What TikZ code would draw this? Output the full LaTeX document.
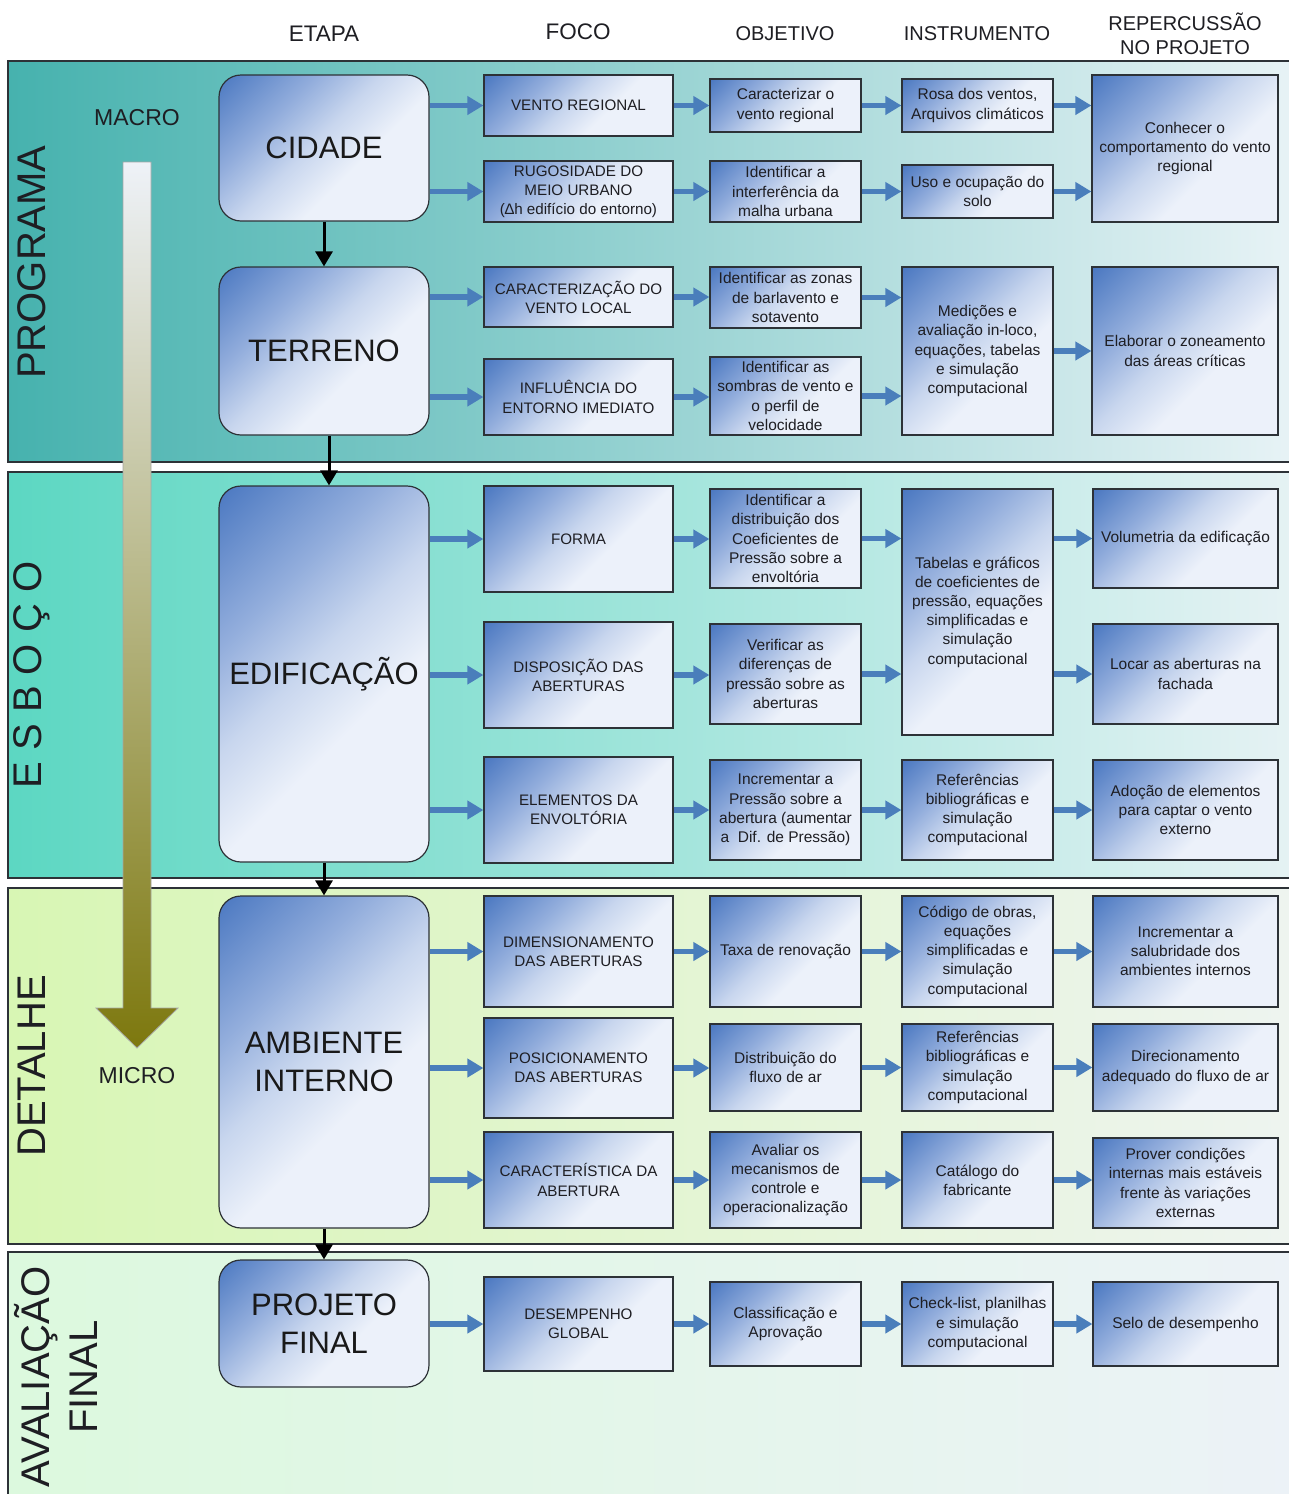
\documentclass[tikz,border=0pt]{standalone}
\usepackage{fontspec}
\setmainfont{Liberation Sans}
\usetikzlibrary{arrows.meta,calc}

\definecolor{bd}{RGB}{72,118,192}
\definecolor{bm1}{RGB}{146,173,220}
\definecolor{bm2}{RGB}{200,214,238}
\definecolor{bl}{RGB}{236,241,250}
\definecolor{brd}{RGB}{45,50,55}
\definecolor{txtc}{RGB}{30,30,35}
\definecolor{arrb}{RGB}{74,126,187}
\definecolor{p1}{RGB}{70,178,174}
\definecolor{p2}{RGB}{232,243,246}
\definecolor{e1}{RGB}{92,215,194}
\definecolor{e2}{RGB}{230,242,244}
\definecolor{d1}{RGB}{216,246,180}
\definecolor{d2}{RGB}{238,244,240}
\definecolor{a1}{RGB}{220,249,222}
\definecolor{a2}{RGB}{236,242,247}
\definecolor{atop}{RGB}{238,242,248}
\definecolor{abot}{RGB}{125,120,14}

\pgfdeclareverticalshading{boxsh}{100bp}{color(0bp)=(bl); color(40bp)=(bl); color(53bp)=(bm2); color(66bp)=(bm1); color(86bp)=(bd); color(100bp)=(bd)}

\newcommand\mkbox[7]{%
  \pgfmathsetmacro\bcx{(#3+#5)/2}%
  \pgfmathsetmacro\bcy{(#4+#6)/2}%
  \pgfmathsetmacro\bw{#5-#3}%
  \pgfmathsetmacro\bh{#6-#4}%
  \node[#1, minimum width=\bw pt, minimum height=\bh pt] (#2) at (\bcx,\bcy) {#7};}

\tikzset{
  fb/.style={draw=brd, line width=1.2pt, shading=boxsh, shading angle=45, align=center, inner sep=1pt, text=txtc, font=\fontsize{15.5}{19.2}\selectfont},
  fc/.style={fb, font=\fontsize{15.2}{19.2}\selectfont},
  eb/.style={fb, rounded corners=22pt, text=black!90, font=\fontsize{31}{38}\selectfont},
  ba/.style={draw=arrb, line width=5.5pt, -{Triangle[length=16pt,width=18pt]}},
  ka/.style={draw=black, line width=3pt, -{Triangle[length=15pt,width=17pt]}},
  hd/.style={text=txtc, align=center, font=\fontsize{20}{24}\selectfont},
  hdb/.style={text=txtc, font=\fontsize{22.5}{24}\selectfont},
  band/.style={draw=brd, line width=1.2pt},
  side/.style={rotate=90, text=txtc, align=center, font=\fontsize{40}{48}\selectfont},
  mm/.style={text=txtc, font=\fontsize{23}{26}\selectfont}
}

\begin{document}
\begin{tikzpicture}[x=1pt,y=-1pt]
\fill[white] (0,0) rectangle (1288,1494);
\useasboundingbox (0,0) rectangle (1288,1494);

% bands
\path[band, left color=p1, right color=p2] (8,61) rectangle (1300,462);
\path[band, left color=e1, right color=e2] (8,472) rectangle (1300,878);
\path[band, left color=d1, right color=d2] (8,888) rectangle (1300,1244);
\path[band, left color=a1, right color=a2] (8,1252) rectangle (1300,1510);

% headers
\node[hdb] (hEt) at (324,34) {ETAPA};
\node[hdb] (hFo) at (578,32) {FOCO};
\node[hd] (hOb) at (785,34) {OBJETIVO};
\node[hd] (hIn) at (977,34) {INSTRUMENTO};
\node[hd] (hRe) at (1185,34) {REPERCUSSÃO\\NO PROJETO};

% side labels
\node[side] (sP) at (32,262) {PROGRAMA};
\node[side] (sE) at (32,675) {E S B O Ç O};
\node[side] (sD) at (32,1066) {DETALHE};
\node[side] (sA) at (56,1377) {AVALIAÇÃO\\FINAL};

% macro/micro arrow
\path[draw=gray!70, line width=0.8pt, top color=atop, bottom color=abot]
  (123,162) -- (151,162) -- (151,1008) -- (178,1008) -- (137,1048) -- (96,1008) -- (123,1008) -- cycle;
\node[mm] (mac) at (137,118) {MACRO};
\node[mm] (mic) at (137,1076) {MICRO};

% ===== PROGRAMA =====
\mkbox{eb}{cid}{219}{75}{429}{221}{CIDADE}
\mkbox{eb}{ter}{219}{267}{429}{435}{TERRENO}
\mkbox{fc}{f1}{484}{75}{673}{136}{VENTO REGIONAL}
\mkbox{fc}{f2}{484}{161}{673}{222}{RUGOSIDADE DO\\MEIO URBANO\\(∆h edifício do entorno)}
\mkbox{fc}{f3}{484}{267}{673}{327}{CARACTERIZAÇÃO DO\\VENTO LOCAL}
\mkbox{fc}{f4}{484}{359}{673}{435}{INFLUÊNCIA DO\\ENTORNO IMEDIATO}
\mkbox{fb}{o1}{710}{79}{861}{132}{Caracterizar o\\vento regional}
\mkbox{fb}{o2}{710}{161}{861}{222}{Identificar a\\interferência da\\malha urbana}
\mkbox{fb}{o3}{710}{267}{861}{328}{Identificar as zonas\\de barlavento e\\sotavento}
\mkbox{fb}{o4}{710}{357}{861}{435}{Identificar as\\sombras de vento e\\o perfil de\\velocidade}
\mkbox{fb}{i1}{902}{79}{1053}{132}{Rosa dos ventos,\\Arquivos climáticos}
\mkbox{fb}{i2}{902}{165}{1053}{218}{Uso e ocupação do\\solo}
\mkbox{fb}{i3}{902}{267}{1053}{435}{Medições e\\avaliação in-loco,\\equações, tabelas\\e simulação\\computacional}
\mkbox{fb}{r1}{1092}{75}{1278}{222}{Conhecer o\\comportamento do vento\\regional}
\mkbox{fb}{r2}{1092}{267}{1278}{435}{Elaborar o zoneamento\\das áreas críticas}

\draw[ba] (f1.west -| cid.east) -- (f1.west);
\draw[ba] (f2.west -| cid.east) -- (f2.west);
\draw[ba] (f1.east) -- (f1.east -| o1.west);
\draw[ba] (f2.east) -- (f2.east -| o2.west);
\draw[ba] (o1.east) -- (o1.east -| i1.west);
\draw[ba] (o2.east) -- (o2.east -| i2.west);
\draw[ba] (i1.east) -- (i1.east -| r1.west);
\draw[ba] (i2.east) -- (i2.east -| r1.west);
\draw[ba] (f3.west -| ter.east) -- (f3.west);
\draw[ba] (f4.west -| ter.east) -- (f4.west);
\draw[ba] (f3.east) -- (f3.east -| o3.west);
\draw[ba] (f4.east) -- (f4.east -| o4.west);
\draw[ba] (o3.east) -- (o3.east -| i3.west);
\draw[ba] (o4.east) -- (o4.east -| i3.west);
\draw[ba] (i3.east) -- (i3.east -| r2.west);

% ===== ESBOCO =====
\mkbox{eb}{edi}{219}{486}{429}{862}{EDIFICAÇÃO}
\mkbox{fc}{f5}{484}{486}{673}{592}{FORMA}
\mkbox{fc}{f6}{484}{622}{673}{728}{DISPOSIÇÃO DAS\\ABERTURAS}
\mkbox{fc}{f7}{484}{757}{673}{863}{ELEMENTOS DA\\ENVOLTÓRIA}
\mkbox{fb}{o5}{710}{489}{861}{588}{Identificar a\\distribuição dos\\Coeficientes de\\Pressão sobre a\\envoltória}
\mkbox{fb}{o6}{710}{624}{861}{724}{Verificar as\\diferenças de\\pressão sobre as\\aberturas}
\mkbox{fb}{o7}{710}{760}{861}{860}{Incrementar a\\Pressão sobre a\\abertura (aumentar\\a\ \ Dif. de Pressão)}
\mkbox{fb}{i5}{902}{489}{1053}{735}{Tabelas e gráficos\\de coeficientes de\\pressão, equações\\simplificadas e\\simulação\\computacional}
\mkbox{fb}{i7}{902}{760}{1053}{860}{Referências\\bibliográficas e\\simulação\\computacional}
\mkbox{fb}{r5}{1093}{489}{1278}{588}{Volumetria da edificação}
\mkbox{fb}{r6}{1093}{624}{1278}{724}{Locar as aberturas na\\fachada}
\mkbox{fb}{r7}{1093}{760}{1278}{860}{Adoção de elementos\\para captar o vento\\externo}

\draw[ba] (f5.west -| edi.east) -- (f5.west);
\draw[ba] (f6.west -| edi.east) -- (f6.west);
\draw[ba] (f7.west -| edi.east) -- (f7.west);
\draw[ba] (f5.east) -- (f5.east -| o5.west);
\draw[ba] (f6.east) -- (f6.east -| o6.west);
\draw[ba] (f7.east) -- (f7.east -| o7.west);
\draw[ba] (o5.east) -- (o5.east -| i5.west);
\draw[ba] (o6.east) -- (o6.east -| i5.west);
\draw[ba] (o7.east) -- (o7.east -| i7.west);
\draw[ba] (r5.west -| i5.east) -- (r5.west);
\draw[ba] (r6.west -| i5.east) -- (r6.west);
\draw[ba] (i7.east) -- (i7.east -| r7.west);

% ===== DETALHE =====
\mkbox{eb}{amb}{219}{896}{429}{1228}{AMBIENTE\\INTERNO}
\mkbox{fc}{f8}{484}{896}{673}{1007}{DIMENSIONAMENTO\\DAS ABERTURAS}
\mkbox{fc}{f9}{484}{1018}{673}{1118}{POSICIONAMENTO\\DAS ABERTURAS}
\mkbox{fc}{f10}{484}{1132}{673}{1228}{CARACTERÍSTICA DA\\ABERTURA}
\mkbox{fb}{o8}{710}{896}{861}{1007}{Taxa de renovação}
\mkbox{fb}{o9}{710}{1024}{861}{1111}{Distribuição do\\fluxo de ar}
\mkbox{fb}{o10}{710}{1132}{861}{1228}{Avaliar os\\mecanismos de\\controle e\\operacionalização}
\mkbox{fb}{i8}{902}{896}{1053}{1007}{Código de obras,\\equações\\simplificadas e\\simulação\\computacional}
\mkbox{fb}{i9}{902}{1024}{1053}{1111}{Referências\\bibliográficas e\\simulação\\computacional}
\mkbox{fb}{i10}{902}{1132}{1053}{1228}{Catálogo do\\fabricante}
\mkbox{fb}{r8}{1093}{896}{1278}{1007}{Incrementar a\\salubridade dos\\ambientes internos}
\mkbox{fb}{r9}{1093}{1024}{1278}{1111}{Direcionamento\\adequado do fluxo de ar}
\mkbox{fb}{r10}{1093}{1138}{1278}{1228}{Prover condições\\internas mais estáveis\\frente às variações\\externas}

\draw[ba] (f8.west -| amb.east) -- (f8.west);
\draw[ba] (f9.west -| amb.east) -- (f9.west);
\draw[ba] (f10.west -| amb.east) -- (f10.west);
\draw[ba] (f8.east) -- (f8.east -| o8.west);
\draw[ba] (f9.east) -- (f9.east -| o9.west);
\draw[ba] (f10.east) -- (f10.east -| o10.west);
\draw[ba] (o8.east) -- (o8.east -| i8.west);
\draw[ba] (o9.east) -- (o9.east -| i9.west);
\draw[ba] (o10.east) -- (o10.east -| i10.west);
\draw[ba] (i8.east) -- (i8.east -| r8.west);
\draw[ba] (i9.east) -- (i9.east -| r9.west);
\draw[ba] (i10.east) -- (i10.east -| r10.west);

% ===== AVALIACAO FINAL =====
\mkbox{eb}{pf}{219}{1260}{429}{1387}{PROJETO\\FINAL}
\mkbox{fc}{f11}{484}{1277}{673}{1371}{DESEMPENHO\\GLOBAL}
\mkbox{fb}{o11}{710}{1282}{861}{1366}{Classificação e\\Aprovação}
\mkbox{fb}{i11}{902}{1282}{1053}{1366}{Check-list, planilhas\\e simulação\\computacional}
\mkbox{fb}{r11}{1093}{1282}{1278}{1366}{Selo de desempenho}

\draw[ba] (f11.west -| pf.east) -- (f11.west);
\draw[ba] (f11.east) -- (f11.east -| o11.west);
\draw[ba] (o11.east) -- (o11.east -| i11.west);
\draw[ba] (i11.east) -- (i11.east -| r11.west);

% black stage arrows
\draw[ka] (cid.south) -- (ter.north);
\draw[ka] ([xshift=5pt]ter.south) -- ([xshift=5pt]ter.south |- edi.north);
\draw[ka] (edi.south) -- (amb.north);
\draw[ka] (amb.south) -- (pf.north);
\end{tikzpicture}
\end{document}
